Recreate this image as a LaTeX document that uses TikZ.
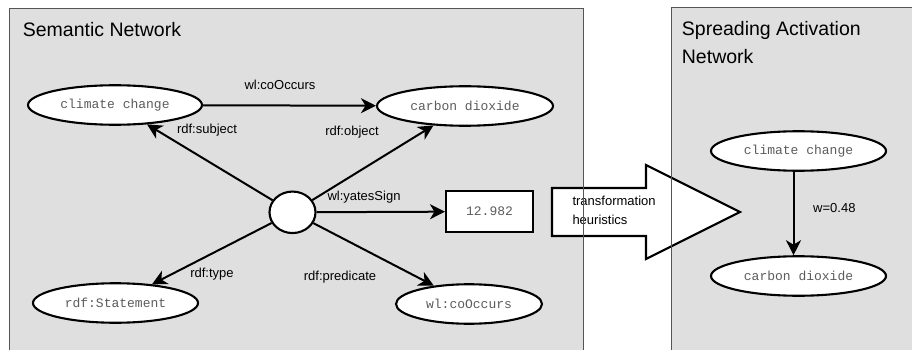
\documentclass[tikz,border=0pt]{standalone}
\usepackage{fontspec}
\setmainfont{Liberation Sans}
\setmonofont{Liberation Mono}
\usetikzlibrary{arrows.meta,shapes.geometric}
\definecolor{panelgray}{HTML}{DFDFDF}
\definecolor{panelline}{HTML}{555555}
\definecolor{termgray}{HTML}{5C5C5C}
\tikzset{
  term/.style={ellipse, draw, line width=2.1pt, fill=white, inner sep=0pt,
    minimum height=39.5pt, text=termgray,
    font=\ttfamily\fontsize{13}{15}\selectfont},
  literal/.style={rectangle, draw, line width=2.1pt, fill=white, inner sep=0pt,
    minimum width=87pt, minimum height=40.5pt, text=termgray,
    font=\ttfamily\fontsize{13}{15}\selectfont},
  blank/.style={ellipse, draw, line width=2.1pt, fill=white, inner sep=0pt,
    minimum width=46pt, minimum height=41.5pt},
  rel/.style={-{Stealth[length=15pt,width=15pt,inset=4.5pt]}, line width=2pt},
  lbl/.style={font=\fontsize{13}{15}\selectfont, inner sep=0pt},
  paneltitle/.style={font=\fontsize{19.5}{27}\selectfont, anchor=base west, inner sep=0pt},
  arrowtext/.style={font=\fontsize{13}{15}\selectfont, anchor=base west, inner sep=0pt},
  panelframe/.style={draw=panelline, line width=0.9pt},
}
\begin{document}
\begin{tikzpicture}[x=1pt, y=-1pt]
  \clip (0,0) rectangle (912,350);
  \fill[white] (0,0) rectangle (912,350);

  % panel backgrounds
  \fill[panelgray] (9,8) rectangle (583,360);
  \fill[panelgray] (671,7) rectangle (920,360);

  % transformation arrow between the panels
  \draw[line width=2.1pt, fill=white, line join=miter]
    (552,188) -- (646,188) -- (646,165) -- (740,212) -- (646,259)
    -- (646,236) -- (552,236) -- cycle;
  \node[arrowtext] (h1) at (572.3,205) {transformation};
  \node[arrowtext] (h2) at (572.3,224) {heuristics};

  % panel frames
  \draw[panelframe] (9,360) -- (9,8) -- (583,8) -- (583,360);
  \draw[panelframe] (671,360) -- (671,7) -- (920,7);

  % titles
  \node[paneltitle] (t1) at (22.7,36.7) {Semantic Network};
  \node[paneltitle] (t2) at (681.7,36) {Spreading Activation};
  \node[paneltitle] (t3) at (681.7,63.5) {Network};

  % semantic network
  \node[term, minimum width=174pt] (cc1) at (115,105) {climate change};
  \node[term, minimum width=176pt] (cd1) at (465,106) {carbon dioxide};
  \node[blank] (st) at (292.5,212.3) {};
  \node[literal] (val) at (489.5,211.5) {12.982};
  \node[term, minimum width=165pt] (stm) at (115.5,303) {rdf:Statement};
  \node[term, minimum width=146pt] (pred) at (469,304) {wl:coOccurs};

  \draw[rel] (cc1) -- (cd1);
  \draw[rel] (st) -- (cc1);
  \draw[rel] (st) -- (cd1);
  \draw[rel] (st) -- (val);
  \draw[rel] (st) -- (stm);
  \draw[rel] (st) -- (pred);

  \node[lbl] (l1) at (280,85) {wl:coOccurs};
  \node[lbl] (l2) at (207,130) {rdf:subject};
  \node[lbl] (l3) at (352,132) {rdf:object};
  \node[lbl] (l4) at (364,197) {wl:yatesSign};
  \node[lbl] (l5) at (212,274) {rdf:type};
  \node[lbl] (l6) at (340,277) {rdf:predicate};

  % spreading activation network
  \node[term, minimum width=175pt] (cc2) at (798.5,151) {climate change};
  \node[term, minimum width=175pt] (cd2) at (798.5,276) {carbon dioxide};
  \draw[rel] ([xshift=-5pt]cc2.south) -- ([xshift=-5pt]cd2.north);
  \node[lbl, anchor=west] (w) at (813,208) {w=0.48};
\end{tikzpicture}
\end{document}
